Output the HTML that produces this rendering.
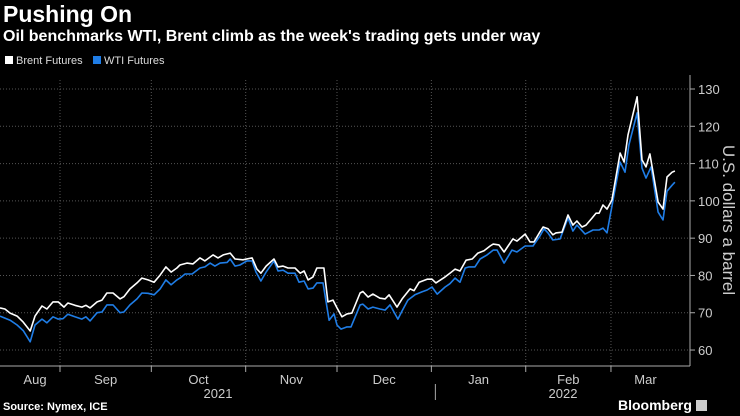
<!DOCTYPE html>
<html><head><meta charset="utf-8">
<style>
html,body{margin:0;padding:0;background:#000;}
body{width:740px;height:416px;overflow:hidden;font-family:"Liberation Sans",sans-serif;color:#fff;position:relative;}
.t{position:absolute;white-space:nowrap;}
</style></head>
<body>
<div class="t" style="left:3px;top:1px;font-size:23px;font-weight:bold;">Pushing On</div>
<div class="t" style="left:3px;top:28px;font-size:16px;font-weight:bold;">Oil benchmarks WTI, Brent climb as the week's trading gets under way</div>
<div class="t" style="left:5px;top:55px;font-size:11px;color:#ddd;"><span style="display:inline-block;width:8px;height:8px;background:#fff;margin-right:3px;"></span>Brent Futures</div>
<div class="t" style="left:93px;top:55px;font-size:11px;color:#ddd;"><span style="display:inline-block;width:8px;height:8px;background:#1f7de6;margin-right:3px;"></span>WTI Futures</div>
<div class="t" style="left:3px;top:401px;font-size:11px;font-weight:bold;">Source: Nymex, ICE</div>
<div class="t" style="left:618px;top:397px;font-size:14px;font-weight:bold;">Bloomberg <span style="display:inline-block;width:11px;height:11px;background:#ccc;vertical-align:-1px;"></span></div>
<svg id="chart" width="740" height="416" style="position:absolute;left:0;top:0;"></svg>
<script>
const brentDays=[11.3,12.9,14.6,16.9,18.9,21.2,22.8,25.1,26.7,28.7,30.4,32.3,33.6,35.9,38.2,39.5,40.9,43.2,44.8,46.4,48.4,50.7,52.0,54.0,56.3,57.9,59.9,61.9,63.9,65.8,67.5,69.4,70.4,72.7,74.7,77.0,78.6,81.3,82.9,84.6,86.9,88.5,91.1,94.1,95.7,97.0,98.7,101.3,102.6,104.3,105.9,108.2,109.9,111.2,112.5,114.1,115.4,117.7,119.0,120.7,122.0,123.6,125.3,126.9,129.6,130.5,132.2,133.8,136.1,137.8,139.1,141.7,143.4,146.0,147.3,149.0,151.6,153.2,154.5,157.5,159.1,160.8,162.4,164.4,166.4,168.3,170.3,172.3,173.3,175.2,176.9,178.2,179.8,181.1,183.8,185.4,186.7,188.7,189.7,191.3,192.9,193.9,195.9,197.9,199.5,200.8,202.5,203.8,205.8,207.1,208.1,209.4,210.7,212.3,215.0,216.3,217.6,220.6,222.2,223.5,224.8,227.5,229.1,230.4,232.1,233.0];
const brentValues=[71.3,71,69.9,69.1,67.5,65.1,69.1,71.8,71,72.9,72.9,71.5,72.6,72,71.5,72,71.3,72.9,73.4,75.3,75.3,73.7,74.3,76.4,78,79.3,78.8,78.2,80.1,82.3,80.9,82,82.8,83.3,83.1,84.7,83.9,85.5,84.7,85.5,86,84.4,84.2,84.7,81.7,80.6,82.5,84.4,82.3,82.5,82,82,80.6,81.2,78.8,79.6,82,82,72.9,73.4,71.3,68.9,69.7,69.9,75.3,75.7,74.2,75,73.9,73.7,74.8,71.5,73.7,76.4,75.9,78.2,79,79,78,79.6,80.6,81.7,81.2,84.1,84.4,86,86.6,87.9,88.4,88.2,86.3,87.9,89.8,89.2,91.1,89,89,91.7,93,92.5,90.9,91.4,91.6,96.2,93.5,94.6,93,93.5,95.4,96.7,96.7,98.9,97.8,100.2,112.8,110.4,117.7,127.9,111,109.1,112.6,99.7,97.8,106.4,107.7,108];
const wtiDays=[11.3,14.6,16.9,18.9,21.2,22.8,25.1,26.7,28.7,30.4,32.0,33.6,35.9,38.2,39.5,40.9,43.2,44.8,46.4,48.4,50.7,52.0,54.0,56.3,57.9,59.9,61.9,63.9,65.8,67.5,69.4,70.4,72.1,74.4,77.0,78.6,80.3,81.9,83.6,85.9,86.9,88.5,90.1,92.4,94.1,95.4,97.0,98.7,101.3,102.6,104.3,105.9,108.2,109.5,111.2,112.5,114.1,115.4,117.4,119.4,121.0,122.0,123.3,125.3,126.6,129.6,130.5,132.2,133.8,136.1,137.8,139.4,142.0,143.4,145.3,147.6,149.9,151.6,153.2,154.9,157.5,159.1,160.8,162.4,164.1,165.4,167.3,169.0,171.3,173.3,174.6,176.9,179.5,181.1,183.8,186.4,188.7,190.0,191.3,192.9,195.3,197.9,199.5,200.8,203.5,206.1,208.1,209.4,210.7,215.0,216.6,217.9,220.6,222.2,223.5,225.2,227.5,229.1,230.4,232.1,233.0];
const wtiValues=[69.1,68,66.7,65.2,62.2,66.7,68.3,67.3,68.9,68.3,68.4,69.6,68.9,68.3,68.9,67.8,70,70.2,72.1,72.1,70,70.2,72.1,73.7,75.3,75.2,74.8,76.4,78.8,77.5,78.8,79.3,80.4,80.4,82,82.3,83.3,82.5,83.3,83.5,84.4,82.5,82.8,83.9,83.9,80.9,78.5,80.9,83.9,81.2,81.4,80.6,80.6,78.2,78.5,76.4,76.6,78,78,68,69.7,66.7,65.6,66.2,66.2,72.1,72.3,71,71.5,71,70.7,72.1,68.3,70.5,73.4,74.8,75.6,76.1,76.9,75,76.9,77.8,79.3,78.2,82,82.3,82.3,84.4,85.5,86.8,86.8,83.3,86.8,86.3,87.9,87.9,90.6,92.5,91.4,89.5,89.8,95.4,91.9,93.5,91.1,92.2,92.2,92.7,91.4,110.4,107.7,115,123.6,108.8,106.1,109.1,97,94.9,102.6,104.2,105];
const yTicks=[60,70,80,90,100,110,120,130];
const monthLabels=["Aug","Sep","Oct","Nov","Dec","Jan","Feb","Mar"];
const monthStarts=[0,31,61,92,122,153,184,212,243];
const yearLabels=["2021","2022"];

const svg=document.getElementById('chart');
const NS='http://www.w3.org/2000/svg';
const PL=0,PR=690,PT=80,PB=366;
const x=d=>60+(d-31)*3.044;
const y=v=>89+(130-v)*3.729;
function mk(tag,attrs){const e=document.createElementNS(NS,tag);for(const k in attrs)e.setAttribute(k,attrs[k]);svg.appendChild(e);return e;}

yTicks.forEach(v=>{
  const g=mk('line',{x1:PL,x2:PR,y1:y(v),y2:y(v),stroke:'#555','stroke-dasharray':'1,2'});
  
  
  const tk=mk('line',{x1:PR,x2:PR+5,y1:y(v),y2:y(v),stroke:'#aaa'});
  
  
  const t=mk('text',{x:PR+8,y:y(v)+5,fill:'#ccc','font-size':13,'font-family':'Liberation Sans, sans-serif'});
  t.textContent=v;
  
  
});
for(let i=1;i<monthStarts.length-1;i++){
  const xx=x(monthStarts[i]);
  const g=mk('line',{x1:xx,x2:xx,y1:PT,y2:PB,stroke:'#555','stroke-dasharray':'1,2'});
  
  
  const tk=mk('line',{x1:xx,x2:xx,y1:PB,y2:PB+6,stroke:'#aaa'});
  
  
}
monthLabels.forEach((m,i)=>{
  const a=Math.max(x(monthStarts[i]),10),b=Math.min(x(monthStarts[i+1]),680);
  const t=mk('text',{x:(a+b)/2,y:384,fill:'#ccc','font-size':13,'text-anchor':'middle','font-family':'Liberation Sans, sans-serif'});
  t.textContent=m;
  
  
});
const yd=x(monthStarts[5])+4;
const ydl=mk('line',{x1:yd,x2:yd,y1:384,y2:400,stroke:'#aaa'});


[[218,yearLabels[0]],[563,yearLabels[1]]].forEach(([xx,s])=>{
  const t=mk('text',{x:xx,y:398,fill:'#ccc','font-size':13,'text-anchor':'middle','font-family':'Liberation Sans, sans-serif'});
  t.textContent=s;
  
  
});
const ax=mk('line',{x1:PR,x2:PR,y1:PT-5,y2:PB,stroke:'#aaa'});


const bx=mk('line',{x1:PL,x2:PR,y1:PB,y2:PB,stroke:'#aaa'});


const yt=mk('text',{x:0,y:0,fill:'#ccc','font-size':17,'text-anchor':'middle','font-family':'Liberation Sans, sans-serif',transform:'translate(723,220) rotate(90)'});
yt.textContent='U.S. dollars a barrel';



function line(days,vals,color,name){
  const d=days.map((dd,i)=>(i?'L':'M')+x(dd).toFixed(1)+','+y(vals[i]).toFixed(1)).join('');
  const p=mk('path',{d:d,fill:'none',stroke:color,'stroke-width':1.6,'stroke-linejoin':'round'});
  
  
}
line(wtiDays,wtiValues,'#1f7de6','wti-futures-line');
line(brentDays,brentValues,'#ffffff','brent-futures-line');
</script>
</body></html>
